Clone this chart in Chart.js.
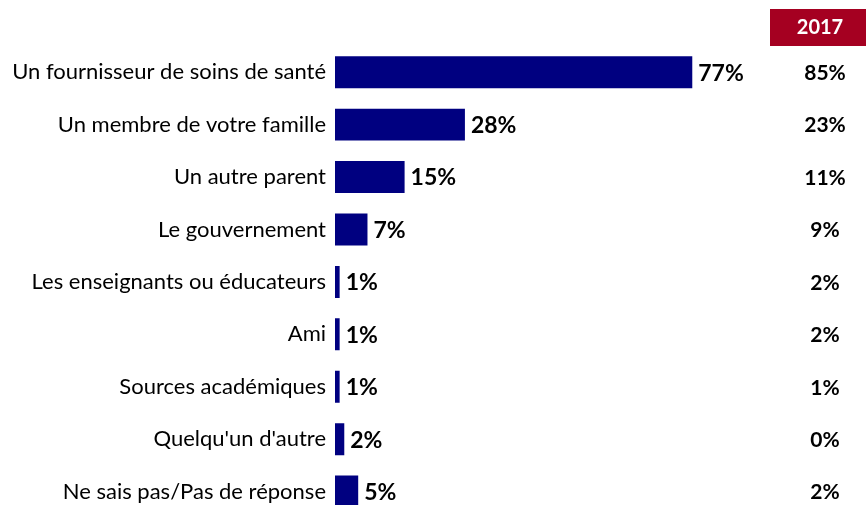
<!DOCTYPE html>
<html>
<head>
<meta charset="utf-8">
<script src="https://cdn.jsdelivr.net/npm/chart.js@4"></script>
<style>
  html, body { margin: 0; padding: 0; background: #fff; overflow: hidden; }
  canvas { display: block; }
</style>
</head>
<body>
<canvas id="chart" width="866" height="540"></canvas>
<script>
const categories = [
  'Un fournisseur de soins de santé',
  'Un membre de votre famille',
  'Un autre parent',
  'Le gouvernement',
  'Les enseignants ou éducateurs',
  'Ami',
  'Sources académiques',
  "Quelqu'un d'autre",
  'Ne sais pas/Pas de réponse'
]
const values2019 = [77, 28, 15, 7, 1, 1, 1, 2, 5]
const values2017 = [85, 23, 11, 9, 2, 2, 1, 0, 2]
const headerLabel = '2017'

const FONT = 'Lato, "Open Sans", sans-serif'

// value labels at the end of each bar + the 2017 column
const labelsPlugin = {
  id: 'labels',
  afterDraw(chart) {
    const ctx = chart.ctx
    const meta = chart.getDatasetMeta(0)
    const yScale = chart.scales.y
    ctx.save()
    ctx.fillStyle = '#000'
    ctx.textBaseline = 'middle'
    meta.data.forEach((bar, i) => {
      ctx.font = 'bold 23px ' + FONT
      ctx.textAlign = 'left'
      ctx.fillText(values2019[i] + '%', bar.x + 6, bar.y + 1)
      ctx.font = 'bold 21px ' + FONT
      ctx.textAlign = 'center'
      ctx.fillText(values2017[i] + '%', 825, yScale.getPixelForValue(i) + 1)
    })
    // header box
    ctx.fillStyle = '#A50021'
    ctx.fillRect(770, 9, 96, 37)
    ctx.fillStyle = '#fff'
    ctx.font = 'bold 20px ' + FONT
    ctx.textAlign = 'center'
    ctx.fillText(headerLabel, 820, 28)
    ctx.restore()
  }
}

new Chart(document.getElementById('chart'), {
  type: 'bar',
  data: {
    labels: categories,
    datasets: [{
      data: values2019,
      backgroundColor: '#000080',
      barPercentage: 1,
      categoryPercentage: 0.61
    }]
  },
  options: {
    indexAxis: 'y',
    responsive: false,
    animation: false,
    layout: { padding: { top: 46, bottom: 1, left: 0, right: 67 } },
    plugins: { legend: { display: false }, tooltip: { enabled: false } },
    scales: {
      x: { display: false, min: 0, max: 100 },
      y: {
        grid: { display: false, drawTicks: false },
        border: { display: false },
        ticks: { color: '#000', padding: 9, font: { family: FONT, size: 22 } },
        afterFit(scale) { scale.width = 335 }
      }
    }
  },
  plugins: [labelsPlugin]
})
</script>
</body>
</html>
